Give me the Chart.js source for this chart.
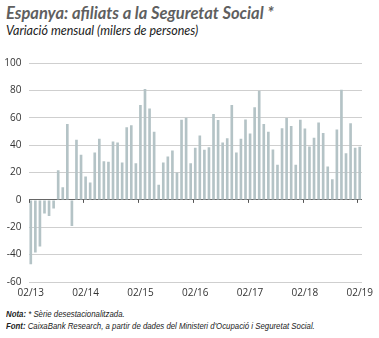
<!DOCTYPE html>
<html>
<head>
<meta charset="utf-8">
<script src="https://cdn.jsdelivr.net/npm/chart.js@4/dist/chart.umd.min.js"></script>
<style>
  html, body { margin: 0; padding: 0; background: #fff; }
  body { width: 379px; height: 338px; position: relative; overflow: hidden; font-family: "Open Sans", sans-serif; }
  #title { position: absolute; left: 6px; top: 3px; font-size: 16.5px; font-weight: bold; font-style: italic; color: #5f5f5f; font-family: "Lato", sans-serif; }
  #subtitle { position: absolute; left: 6px; top: 23px; font-size: 12.5px; font-style: italic; color: #222; font-family: "Lato", sans-serif; }
  #wrap { position: absolute; left: 0; top: 50px; width: 379px; height: 255px; }
  .note { position: absolute; left: 6px; font-size: 8.5px; font-style: italic; color: #222; font-family: "Liberation Sans Narrow", "Liberation Sans", sans-serif; white-space: nowrap; transform: scaleX(0.92); transform-origin: 0 0; }
  .note b { font-weight: bold; }
</style>
</head>
<body>
<div id="title">Espanya: afiliats a la Seguretat Social *</div>
<div id="subtitle">Variació mensual (milers de persones)</div>
<div id="wrap"><canvas id="myChart" width="379" height="255"></canvas></div>
<div class="note" style="top:309px"><b>Nota:</b> * Sèrie desestacionalitzada.</div>
<div class="note" style="top:321px"><b>Font:</b> CaixaBank Research, a partir de dades del Ministeri d'Ocupació i Seguretat Social.</div>
<script>
// monthly change in social security affiliates, 02/13 .. 02/19 (thousands)
var startYear = 13;
var startMonth = 2;
var nMonths = 73;
var yTicks = [-60, -40, -20, 0, 20, 40, 60, 80, 100];

var afiliats = [
  -47, -38.5, -34, -10, -11.7, -6.3, 21.7, 9.3, 55.4, -19, 44, 33,
  17, 12.7, 34.6, 44.6, 28.3, 27.8, 42.7, 42, 27.3, 53, 54.6, 26.8,
  69.3, 81, 66.8, 49.8, 11, 27.3, 31.7, 36, 20, 58.5, 60, 26.8,
  38, 47, 36.6, 38.5, 62.7, 58.3, 42, 45, 69.3, 34.6, 44.6, 58.8,
  48.5, 67.6, 79.8, 55.4, 49.8, 36.8, 25.6, 52.4, 59.8, 54, 25.6, 58.5,
  52.2, 39, 45.4, 56.6, 48.8, 24.4, 15, 51.5, 80.5, 34, 56, 38,
  38.8
];

var months = [];
for (var i = 0; i < nMonths; i++) {
  var m = ((startMonth - 1 + i) % 12) + 1;
  var y = startYear + Math.floor((startMonth - 1 + i) / 12);
  months.push((m < 10 ? "0" + m : "" + m) + "/" + y);
}

// small year tick marks on the zero line
var yearTicks = {
  id: "yearTicks",
  afterDatasetsDraw: function (chart) {
    var x = chart.scales.x, yS = chart.scales.y;
    var c = chart.ctx;
    var y0 = yS.getPixelForValue(0);
    var half = (x.getPixelForValue(1) - x.getPixelForValue(0)) / 2;
    c.save();
    c.strokeStyle = "#555";
    c.lineWidth = 1;
    for (var i = 0; i < months.length; i += 12) {
      var px = Math.round(x.getPixelForValue(i) - half) + 0.5;
      c.beginPath();
      c.moveTo(px, y0);
      c.lineTo(px, y0 + 3);
      c.stroke();
    }
    c.restore();
  }
};

var ctx = document.getElementById("myChart").getContext("2d");
var myChart = new Chart(ctx, {
  type: "bar",
  data: {
    labels: months,
    datasets: [
      {
        label: "afiliats",
        data: afiliats,
        backgroundColor: "#b4c3c6",
        borderWidth: 0,
        barPercentage: 0.58,
        categoryPercentage: 1
      }
    ]
  },
  options: {
    responsive: false,
    animation: false,
    layout: { padding: { top: 12, right: 17, left: 0, bottom: 0 } },
    plugins: { legend: { display: false }, tooltip: { enabled: false } },
    scales: {
      x: {
        offset: true,
        grid: { display: false },
        border: { display: false },
        ticks: {
          autoSkip: false,
          maxRotation: 0,
          padding: -3,
          color: "#333",
          font: { family: "Open Sans", size: 10 },
          callback: function (v, i) { return i % 12 === 0 ? months[i] : ""; }
        },
        afterFit: function (s) { s.height = 23; }
      },
      y: {
        min: yTicks[0],
        max: yTicks[yTicks.length - 1],
        border: { display: false },
        grid: {
          drawTicks: false,
          lineWidth: 1,
          color: function (c) { return c.tick && c.tick.value === 0 ? "#666" : "#cfcfcf"; }
        },
        ticks: {
          stepSize: 20,
          padding: 7,
          color: "#333",
          font: { family: "Open Sans", size: 10 }
        },
        afterFit: function (s) { s.width = 28.5; }
      }
    }
  },
  plugins: [yearTicks]
});
</script>
</body>
</html>
